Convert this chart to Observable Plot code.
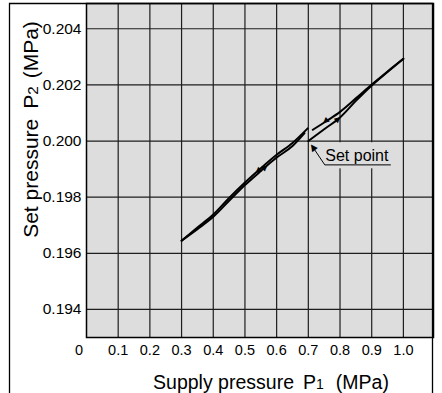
<!DOCTYPE html>
<html><head><meta charset="utf-8">
<script src="https://cdn.jsdelivr.net/npm/d3@7"></script>
<script src="https://cdn.jsdelivr.net/npm/@observablehq/plot@0.6"></script>
<style>html,body{margin:0;padding:0;background:#fff} svg{display:block}</style>
</head><body><div id="chart"></div>
<script>
// ---- tick values ----
const xTicks = [0.1, 0.2, 0.3, 0.4, 0.5, 0.6, 0.7, 0.8, 0.9, 1.0];
const xZeroLabel = [0];
const yTicks = [0.194, 0.196, 0.198, 0.200, 0.202, 0.204];

// ---- axis label texts ----
const xLabelParts = ["Supply pressure", "P", "1", "(MPa)"];
const yLabelParts = ["Set pressure", "P", "2", "(MPa)"];
const xLabel = xLabelParts.join(" ");
const yLabel = yLabelParts.join(" ");

// ---- series (P1 in MPa, P2 in MPa) ----
// rising from the set point to 1.0 MPa
const riseSetX = [0.70, 0.75, 0.80, 0.85, 0.90, 0.95, 1.00];
const riseSetY = [0.20000, 0.20042, 0.20084, 0.20143, 0.20198, 0.20246, 0.20293];
// falling from 1.0 MPa (upper line near 0.8)
const fallUpperX = [0.714, 0.76, 0.80, 0.85, 0.90, 0.95, 1.00];
const fallUpperY = [0.20040, 0.20073, 0.20104, 0.20152, 0.20201, 0.20248, 0.20293];
// falling main curve between 0.7 and 0.3 MPa
const fallMainX = [0.30, 0.35, 0.40, 0.45, 0.50, 0.55, 0.60, 0.65, 0.698];
const fallMainY = [0.19645, 0.19692, 0.19738, 0.19797, 0.19852, 0.19903, 0.19951, 0.19993, 0.20045];
// rising main curve from 0.3 MPa
const riseMainX = [0.30, 0.35, 0.40, 0.45, 0.50, 0.55, 0.60, 0.65, 0.688];
const riseMainY = [0.19645, 0.19686, 0.19730, 0.19787, 0.19843, 0.19893, 0.19941, 0.19982, 0.20028];

// ---- direction arrows on the curves ----
const arrowX = [0.565, 0.540, 0.753, 0.795];
const arrowY = [0.19908, 0.19892, 0.20069, 0.20080];
const arrowDir = ["up", "down", "down", "up"];

// ---- "Set point" annotation ----
const setLabel = "Set point";
const setLabelPos = {x: 0.7535, y: 0.19930};
const leaderX = [0.712, 0.752, 0.959];
const leaderY = [0.19982, 0.19915, 0.19915];
const leaderHead = {x: 0.7135, y: 0.19979};
const labelBox = {x1: 0.748, x2: 0.962, y1: 0.19901, y2: 0.19994};

// ---- build tables ----
const series = [
  ["riseSet", riseSetX, riseSetY],
  ["fallUpper", fallUpperX, fallUpperY],
  ["fallMain", fallMainX, fallMainY],
  ["riseMain", riseMainX, riseMainY]
];
const pts = series.flatMap(([name, xs, ys]) => xs.map((x, i) => ({series: name, x, y: ys[i]})));
const arrows = arrowX.map((x, i) => ({x, y: arrowY[i], dir: arrowDir[i]}));
const leader = leaderX.map((x, i) => ({x, y: leaderY[i]}));

const gray = "#dddddd";
const tri = "\u25B2\uFE0E";
const chart = Plot.plot({
  width: 442, height: 393,
  marginLeft: 86, marginTop: 3, marginRight: 9, marginBottom: 56,
  style: {fontFamily: "'Liberation Sans', Arial, Helvetica, sans-serif", background: "white", color: "black"},
  x: {domain: [0, 1.095]},
  y: {domain: [0.193, 0.2049]},
  marks: [
    Plot.frame({fill: gray}),
    Plot.ruleX(xTicks, {stroke: "#1e1e1e", strokeWidth: 1.2}),
    Plot.ruleY(yTicks, {stroke: "#1e1e1e", strokeWidth: 1.2}),
    Plot.rect([labelBox], {x1: "x1", x2: "x2", y1: "y1", y2: "y2", fill: gray}),
    Plot.line(pts, {x: "x", y: "y", z: "series", stroke: "black", strokeWidth: 2, curve: "monotone-x"}),
    Plot.text(arrows, {x: "x", y: "y", text: () => tri, rotate: d => d.dir === "up" ? 49 : 229, fontSize: 8, fill: "black", fontFamily: "DejaVu Sans"}),
    Plot.line(leader, {x: "x", y: "y", stroke: "black", strokeWidth: 1}),
    Plot.text([leaderHead], {x: "x", y: "y", text: () => tri, rotate: -36, fontSize: 9, fill: "black", fontFamily: "DejaVu Sans"}),
    Plot.text([setLabel], {x: () => setLabelPos.x, y: () => setLabelPos.y, text: d => d, textAnchor: "start", lineAnchor: "bottom", fontSize: 16}),
    Plot.frame({stroke: "black", strokeWidth: 1.5}),
    Plot.axisX(xTicks, {tickSize: 0, tickPadding: 7, tickFormat: d3.format(".1f"), fontSize: 14.5, label: null}),
    Plot.axisY(yTicks, {tickSize: 0, tickPadding: 5, tickFormat: d3.format(".3f"), fontSize: 15.5, label: null}),
    Plot.text(xZeroLabel, {x: d => d, frameAnchor: "bottom", lineAnchor: "top", dy: 7, dx: -7.5, text: d => String(d), fontSize: 14.5}),
    Plot.text([xLabel], {frameAnchor: "bottom", lineAnchor: "bottom", textAnchor: "middle", dx: 11, dy: 51, text: d => d, fontSize: 19.5}),
    Plot.text([yLabel], {frameAnchor: "left", rotate: -90, lineAnchor: "bottom", textAnchor: "middle", dx: -48.5, dy: -41, text: d => d, fontSize: 21})
  ]
});

const svg = d3.select(chart);
function subscriptify(full, parts, gap1, gap2) {
  svg.selectAll("text").filter(function() { return this.textContent === full; }).each(function() {
    const t = d3.select(this);
    t.text(null);
    t.append("tspan").text(parts[0]);
    t.append("tspan").attr("dx", gap1).text(parts[1]);
    t.append("tspan").attr("font-size", "0.72em").text(parts[2]);
    t.append("tspan").attr("dx", gap2).text(parts[3]);
  });
}
subscriptify(xLabel, xLabelParts, 9, 12);
subscriptify(yLabel, yLabelParts, 10, 8);

svg.append("path")
  .attr("d", "M9.5,393V3.5H432.5V393")
  .attr("fill", "none").attr("stroke", "black").attr("stroke-width", 1.3);

document.getElementById("chart").appendChild(chart);
</script>
</body></html>
